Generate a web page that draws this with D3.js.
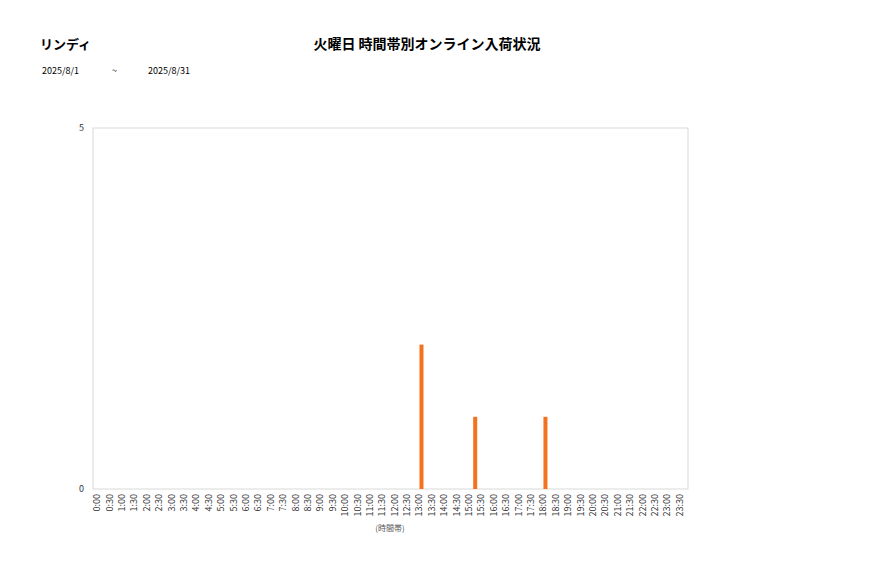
<!DOCTYPE html>
<html>
<head>
<meta charset="utf-8">
<script src="https://cdn.jsdelivr.net/npm/d3@7"></script>
<style>
  body { margin: 0; background: #fff; }
  svg { font-family: "Noto Sans CJK JP", "Noto Sans", sans-serif; }
</style>
</head>
<body>
<svg width="877" height="578"></svg>
<script>
// time slot labels 0:00 .. 23:30
var slots = [];
for (var h = 0; h < 24; h++) {
    slots.push(h + ":00");
    slots.push(h + ":30");
}
// arrival times and counts
var hitTimes = ["13:00", "15:10", "18:00"];
var hitValues = [2, 1, 1];
var yTicks = [0, 5];

function toMin(t) {
    var p = t.split(":");
    return +p[0] * 60 + +p[1];
}

var svg = d3.select("svg");
var plotLeft = 93, plotRight = 688, plotTop = 128, plotBottom = 489;

// each 30 min slot is centred on its time, so the axis runs from -15 to 1425 min
var x = d3.scaleLinear().domain([-15, 1425]).range([plotLeft, plotRight]);
var y = d3.scaleLinear().domain([0, 5]).range([plotBottom, plotTop]);

// titles
svg.append("text").attr("x", 40).attr("y", 49)
    .attr("font-size", 13).attr("font-weight", "bold").text("リンディ");
svg.append("text").attr("x", 427).attr("y", 49).attr("text-anchor", "middle")
    .attr("font-size", 14).attr("font-weight", "bold").text("火曜日 時間帯別オンライン入荷状況");
svg.append("text").attr("x", 42).attr("y", 74).attr("font-size", 9).text("2025/8/1");
svg.append("text").attr("x", 112).attr("y", 74).attr("font-size", 9).text("~");
svg.append("text").attr("x", 148).attr("y", 74).attr("font-size", 9).text("2025/8/31");

// plot frame
svg.append("rect").attr("x", plotLeft).attr("y", plotTop)
    .attr("width", plotRight - plotLeft).attr("height", plotBottom - plotTop)
    .attr("fill", "none").attr("stroke", "#d9d9d9");

// y axis labels
svg.selectAll(".ytick").data(yTicks).enter().append("text")
    .attr("x", 84).attr("y", function(d) { return y(d) + 3; })
    .attr("text-anchor", "end").attr("font-size", 9).attr("fill", "#333")
    .text(function(d) { return d; });

// bars
svg.selectAll(".bar").data(hitTimes).enter().append("rect")
    .attr("x", function(d) { return x(toMin(d)) - 2; })
    .attr("width", 4)
    .attr("y", function(d, i) { return y(hitValues[i]); })
    .attr("height", function(d, i) { return y(0) - y(hitValues[i]); })
    .attr("fill", "#f4711d");

// x axis labels (rotated)
svg.selectAll(".xtick").data(slots).enter().append("text")
    .attr("transform", function(d) {
        return "translate(" + (x(toMin(d)) + 1) + "," + (plotBottom + 5) + ") rotate(-90)";
    })
    .attr("text-anchor", "end").attr("font-size", 9).attr("fill", "#333")
    .text(function(d) { return d; });

svg.append("text").attr("x", 390).attr("y", 531).attr("text-anchor", "middle")
    .attr("font-size", 8).attr("fill", "#555").text("(時間帯)");
</script>
</body>
</html>
